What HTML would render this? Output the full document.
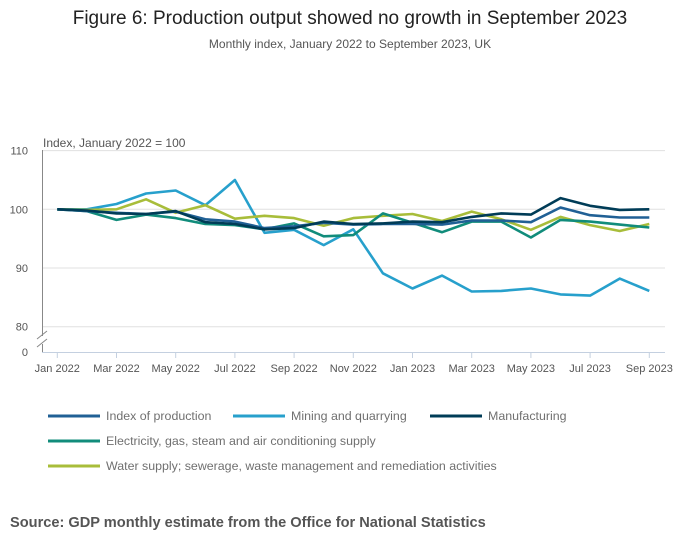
<!DOCTYPE html>
<html><head><meta charset="utf-8">
<style>
body{margin:0;background:#fff;width:700px;height:549px;overflow:hidden;font-family:"Liberation Sans",sans-serif}
svg text{font-family:"Liberation Sans",sans-serif}
</style></head>
<body>
<svg id="chart" width="700" height="549" xmlns="http://www.w3.org/2000/svg">
<text x="350" y="24" text-anchor="middle" font-size="19" fill="#222">Figure 6: Production output showed no growth in September 2023</text>
<text x="350" y="48" text-anchor="middle" font-size="12" fill="#555">Monthly index, January 2022 to September 2023, UK</text>
<text x="43" y="147" font-size="12" fill="#555">Index, January 2022 = 100</text>
<g id="grid"></g><g id="series"></g><g id="legend"></g>
<text x="10" y="527" font-size="14.6" font-weight="bold" fill="#555">Source: GDP monthly estimate from the Office for National Statistics</text>
</svg>
<script>
const months=["Jan 2022","Feb 2022","Mar 2022","Apr 2022","May 2022","Jun 2022","Jul 2022","Aug 2022","Sep 2022","Oct 2022","Nov 2022","Dec 2022","Jan 2023","Feb 2023","Mar 2023","Apr 2023","May 2023","Jun 2023","Jul 2023","Aug 2023","Sep 2023"];
const yTicks=[80,90,100,110];
const iop=[100,99.7,99.4,99.2,99.6,98.3,97.9,96.8,97.1,97.7,97.4,97.5,97.5,97.4,98.1,98.1,97.8,100.3,99.0,98.6,98.6];
const mining=[100,100,100.9,102.7,103.2,100.7,105,96.0,96.5,93.9,96.6,89.1,86.5,88.7,86.0,86.1,86.5,85.5,85.3,88.2,86.1];
const manuf=[100,99.8,99.3,99.2,99.7,97.8,97.5,96.6,96.8,97.9,97.5,97.6,97.9,97.8,98.7,99.3,99.1,101.9,100.6,99.9,100.0];
const elec=[100,99.7,98.2,99.1,98.5,97.5,97.3,96.6,97.6,95.4,95.6,99.3,97.7,96.1,97.9,97.9,95.2,98.2,97.9,97.4,96.9];
const water=[100,99.9,100.0,101.7,99.4,100.7,98.4,98.9,98.5,97.2,98.5,98.9,99.2,98.0,99.6,98.3,96.5,98.7,97.3,96.3,97.5];
const seriesNames=["Index of production","Mining and quarrying","Manufacturing","Electricity, gas, steam and air conditioning supply","Water supply; sewerage, waste management and remediation activities"];
const seriesKeys=["index-of-production","mining-and-quarrying","manufacturing","electricity-gas-steam","water-supply"];
const allSeries=[iop,mining,manuf,elec,water];
const colors=["#206095","#27a0cc","#003c57","#118c7b","#a8bd3a"];
const NS="http://www.w3.org/2000/svg";
const x0=57.3,x1=649.3,plotR=665;
const xs=i=>x0+(x1-x0)*i/(months.length-1);
const ys=v=>209.3-(v-100)*5.87;
function mk(tag,attrs,parent){const e=document.createElementNS(NS,tag);for(const k in attrs)e.setAttribute(k,attrs[k]);parent.appendChild(e);return e;}
const grid=document.getElementById('grid');
yTicks.forEach(t=>{
  const l=mk('line',{x1:42,x2:plotR,y1:ys(t),y2:ys(t),stroke:'#e0e0e0','stroke-width':1},grid);
  
  
  const tx=mk('text',{x:28,y:ys(t)+4,'text-anchor':'end','font-size':11,fill:'#555'},grid);
  tx.textContent=t;
  
  
});
const z=mk('text',{x:28,y:356,'text-anchor':'end','font-size':11,fill:'#555'},grid);z.textContent='0';


const ya=mk('path',{d:'M42.5 150 V336 M42.5 344 V352',stroke:'#888',fill:'none'},grid);


const br=mk('path',{d:'M37 339 L47 331 M37 347 L47 339',stroke:'#888',fill:'none'},grid);


const xa=mk('line',{x1:42,x2:plotR,y1:352.5,y2:352.5,stroke:'#c4d0e0'},grid);


months.forEach((m,i)=>{
  if(i%2)return;
  const t=mk('line',{x1:xs(i),x2:xs(i),y1:352,y2:358,stroke:'#c4d0e0'},grid);
  
  
  const tx=mk('text',{x:xs(i),y:372,'text-anchor':'middle','font-size':11,fill:'#555'},grid);
  tx.textContent=m;
  
  
});
const sg=document.getElementById('series');
[1,4,3,0,2].forEach(k=>{
  const d=allSeries[k].map((v,i)=>(i?'L':'M')+xs(i).toFixed(1)+' '+ys(v).toFixed(1)).join(' ');
  const p=mk('path',{d:d,stroke:colors[k],'stroke-width':2.6,fill:'none','stroke-linejoin':'round'},sg);
  
  
});
const lg=document.getElementById('legend');
const pos=[[48,416],[233,416],[430,416],[48,441],[48,466]];
seriesNames.forEach((n,k)=>{
  const g=mk('g',{},lg);
  
  
  mk('line',{x1:pos[k][0],x2:pos[k][0]+52,y1:pos[k][1],y2:pos[k][1],stroke:colors[k],'stroke-width':3},g);
  const t=mk('text',{x:pos[k][0]+58,y:pos[k][1]+4,'font-size':12.4,fill:'#707070'},g);
  t.textContent=n;
});
</script>
</body></html>
